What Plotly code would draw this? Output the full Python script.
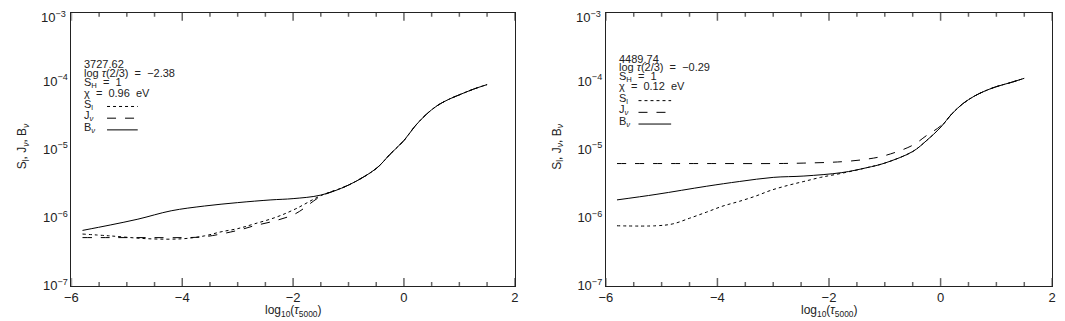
import math
import plotly.graph_objects as go

# ---- left panel: 3727.62 ----
left_B_x = [-5.8, -5.3, -4.8, -4.2, -3.6, -3.0, -2.4, -2.0, -1.5, -1.0, -0.5, -0.25,
            0.0, 0.2, 0.4, 0.6, 0.8, 1.0, 1.25, 1.5]
left_B = [6.5e-7, 7.8e-7, 9.5e-7, 1.26e-6, 1.48e-6, 1.66e-6, 1.82e-6, 1.9e-6, 2.14e-6, 3.0e-6,
          5.25e-6, 8.5e-6, 1.35e-5, 2.19e-5, 3.24e-5, 4.37e-5, 5.37e-5, 6.3e-5, 7.6e-5, 8.9e-5]

left_S_x = [-5.8, -5.3, -4.6, -4.0, -3.6, -3.3, -3.0, -2.7, -2.3, -1.95, -1.5,
            -1.0, -0.5, -0.25, 0.0, 0.2, 0.4, 0.6, 0.8, 1.0, 1.25, 1.5]
left_S = [5.75e-7, 5.4e-7, 4.9e-7, 4.9e-7, 5.4e-7, 6.2e-7, 6.9e-7, 8.1e-7, 1.02e-6, 1.35e-6, 2.1e-6,
          3.0e-6, 5.25e-6, 8.5e-6, 1.35e-5, 2.19e-5, 3.24e-5, 4.37e-5, 5.37e-5, 6.3e-5, 7.6e-5, 8.9e-5]

left_J_x = [-5.8, -5.3, -4.6, -4.0, -3.6, -3.0, -2.7, -2.3, -1.95, -1.5,
            -1.0, -0.5, -0.25, 0.0, 0.2, 0.4, 0.6, 0.8, 1.0, 1.25, 1.5]
left_J = [5.1e-7, 5.1e-7, 5.1e-7, 5.1e-7, 5.25e-7, 6.5e-7, 7.6e-7, 9.1e-7, 1.15e-6, 2.05e-6,
          3.0e-6, 5.25e-6, 8.5e-6, 1.35e-5, 2.19e-5, 3.24e-5, 4.37e-5, 5.37e-5, 6.3e-5, 7.6e-5, 8.9e-5]

left_info = ["3727.62", "log <i>τ</i>(2/3)  =  −2.38", "S<sub>H</sub>  =  1", "χ  =  0.96  eV"]

# ---- right panel: 4489.74 ----
right_B_x = [-5.8, -5.1, -4.2, -3.6, -3.0, -2.45, -1.77, -1.32, -1.0, -0.5, -0.25,
             0.0, 0.2, 0.4, 0.6, 0.8, 1.0, 1.25, 1.5]
right_B = [1.82e-6, 2.19e-6, 2.88e-6, 3.39e-6, 3.89e-6, 4.07e-6, 4.57e-6, 5.4e-6, 6.3e-6, 9.3e-6,
           1.35e-5, 2.1e-5, 3.3e-5, 4.68e-5, 6.0e-5, 7.2e-5, 8.3e-5, 9.5e-5, 1.1e-4]

right_J_x = [-5.8, -4.0, -3.0, -2.45, -1.77, -1.32, -1.0, -0.5, -0.25, 0.0,
             0.2, 0.4, 0.6, 0.8, 1.0, 1.25, 1.5]
right_J = [6.2e-6, 6.2e-6, 6.2e-6, 6.3e-6, 6.6e-6, 7.2e-6, 8.1e-6, 1.15e-5, 1.6e-5, 2.2e-5,
           3.3e-5, 4.68e-5, 6.0e-5, 7.2e-5, 8.3e-5, 9.5e-5, 1.1e-4]

right_S_x = [-5.8, -5.1, -4.8, -4.5, -4.2, -3.9, -3.6, -3.3, -3.05, -2.75, -2.45, -2.15, -1.77,
             -1.32, -1.0, -0.5, -0.25, 0.0, 0.2, 0.4, 0.6, 0.8, 1.0, 1.25, 1.5]
right_S = [7.6e-7, 7.6e-7, 8.1e-7, 9.8e-7, 1.2e-6, 1.48e-6, 1.74e-6, 2.09e-6, 2.5e-6, 2.95e-6,
           3.39e-6, 3.89e-6, 4.47e-6, 5.4e-6, 6.3e-6, 9.3e-6, 1.35e-5, 2.1e-5, 3.3e-5, 4.68e-5,
           6.0e-5, 7.2e-5, 8.3e-5, 9.5e-5, 1.1e-4]

right_info = ["4489.74", "log <i>τ</i>(2/3)  =  −0.29", "S<sub>H</sub>  =  1", "χ  =  0.12  eV"]

legend_names = ["S<sub>l</sub>", "J<sub><i>ν</i></sub>", "B<sub><i>ν</i></sub>"]
legend_dash = ["dot", "dash", "solid"]

# tick positions
x_major = [-6, -4, -2, 0, 2]
x_minor = [-5.5, -5, -4.5, -3.5, -3, -2.5, -1.5, -1, -0.5, 0.5, 1, 1.5]
y_tickvals = [1e-7, 1e-6, 1e-5, 1e-4]
y_ticktext = ["10<sup>−7</sup>", "10<sup>−6</sup>", "10<sup>−5</sup>", "10<sup>−4</sup>"]
y_major = [1e-7, 1e-6, 1e-5, 1e-4, 1e-3]
y_minor = [k * 10.0 ** e for e in range(-7, -3) for k in range(2, 10)]

W, H = 1065, 321
FONT = "Liberation Sans"
INK = "#222"
TICK = "#666"

fig = go.Figure()

panels = [
    dict(xa="x", ya="y", series=[(left_S_x, left_S), (left_J_x, left_J), (left_B_x, left_B)],
         info=left_info, px=(57, 505), text_x=68, rows=[57, 67, 77, 87], keys=[99, 111, 123],
         key_x=(93, 124)),
    dict(xa="x2", ya="y2", series=[(right_S_x, right_S), (right_J_x, right_J), (right_B_x, right_B)],
         info=right_info, px=(597, 1048), text_x=608, rows=[52, 61, 71, 80], keys=[93, 105, 117],
         key_x=(630, 663)),
]

for p in panels:
    for (xs, ys), dash in zip(p["series"], legend_dash):
        fig.add_trace(go.Scatter(x=xs, y=ys, mode="lines", xaxis=p["xa"], yaxis=p["ya"],
                                 line=dict(color="black", width=1, dash=dash, shape="spline"),
                                 showlegend=False, hoverinfo="skip"))

top_px, bot_px = 5, 285
ydom = [1 - bot_px / H, 1 - top_px / H]
axis_common = dict(showline=True, linecolor=INK, linewidth=1, mirror=True, ticks="",
                   showgrid=False, zeroline=False, tickfont=dict(family=FONT, size=13, color=INK))

annotations = []
shapes = []


def tick(xref, yref, x0, x1, y0, y1):
    shapes.append(dict(type="line", xref=xref, yref=yref, x0=x0, x1=x1, y0=y0, y1=y1,
                       line=dict(color=TICK, width=1.5), layer="above"))


for i, p in enumerate(panels):
    sfx = "" if i == 0 else "2"
    px0, px1 = p["px"]
    plot_w = px1 - px0
    plot_h = bot_px - top_px
    fig.update_layout(**{
        "xaxis" + sfx: dict(axis_common, domain=[px0 / W, px1 / W], range=[-6, 2],
                            tickmode="array", tickvals=x_major, ticktext=["−6", "−4", "−2", "0", "2"],
                            anchor="y" + sfx),
        "yaxis" + sfx: dict(axis_common, domain=ydom, type="log", range=[-7, -3],
                            tickmode="array", tickvals=y_tickvals, ticktext=y_ticktext,
                            anchor="x" + sfx),
    })

    # inside tick marks on all four sides
    xr, yr = p["xa"], p["ya"]
    xdom, ydomr = xr + " domain", yr + " domain"
    for vals, length in ((x_major, 8), (x_minor, 4)):
        f = length / plot_h
        for v in vals:
            tick(xr, ydomr, v, v, 0, f)
            tick(xr, ydomr, v, v, 1, 1 - f)
    for vals, length in ((y_major, 8), (y_minor, 4)):
        f = length / plot_w
        for v in vals:
            lv = math.log10(v)
            tick(xdom, yr, 0, f, lv, lv)
            tick(xdom, yr, 1, 1 - f, lv, lv)

    # top decade label kept inside the page
    annotations.append(dict(text="10<sup>−3</sup>", x=(px0 - 3) / W, y=1 - 9 / H, xref="paper", yref="paper",
                            xanchor="right", yanchor="middle", showarrow=False,
                            font=dict(family=FONT, size=13, color=INK)))
    # axis titles
    annotations.append(dict(text="log<sub>10</sub>(<i>τ</i><sub>5000</sub>)", x=(px0 + px1) / 2 / W,
                            y=1 - 311 / H, xref="paper", yref="paper", xanchor="center", yanchor="middle",
                            showarrow=False, font=dict(family=FONT, size=12, color=INK)))
    annotations.append(dict(text="S<sub>l</sub>, J<sub><i>ν</i></sub>, B<sub><i>ν</i></sub>",
                            x=(px0 - 48) / W, y=1 - 142 / H, xref="paper", yref="paper",
                            xanchor="center", yanchor="middle", textangle=-90,
                            showarrow=False, font=dict(family=FONT, size=12, color=INK)))
    # in-plot labels and legend keys
    for txt, ypx in zip(p["info"], p["rows"]):
        annotations.append(dict(text=txt, x=p["text_x"] / W, y=1 - ypx / H, xref="paper", yref="paper",
                                xanchor="left", yanchor="middle", showarrow=False,
                                font=dict(family=FONT, size=11, color=INK)))
    for name, dash, ypx in zip(legend_names, legend_dash, p["keys"]):
        annotations.append(dict(text=name, x=p["text_x"] / W, y=1 - ypx / H, xref="paper", yref="paper",
                                xanchor="left", yanchor="middle", showarrow=False,
                                font=dict(family=FONT, size=11, color=INK)))
        shapes.append(dict(type="line", xref="paper", yref="paper",
                           x0=p["key_x"][0] / W, x1=p["key_x"][1] / W,
                           y0=1 - (ypx + 2) / H, y1=1 - (ypx + 2) / H,
                           line=dict(color="black", width=1, dash=dash)))

fig.update_layout(width=W, height=H, margin=dict(l=0, r=0, t=0, b=0),
                  paper_bgcolor="white", plot_bgcolor="white",
                  annotations=annotations, shapes=shapes, showlegend=False)

fig.write_html("out.html")
